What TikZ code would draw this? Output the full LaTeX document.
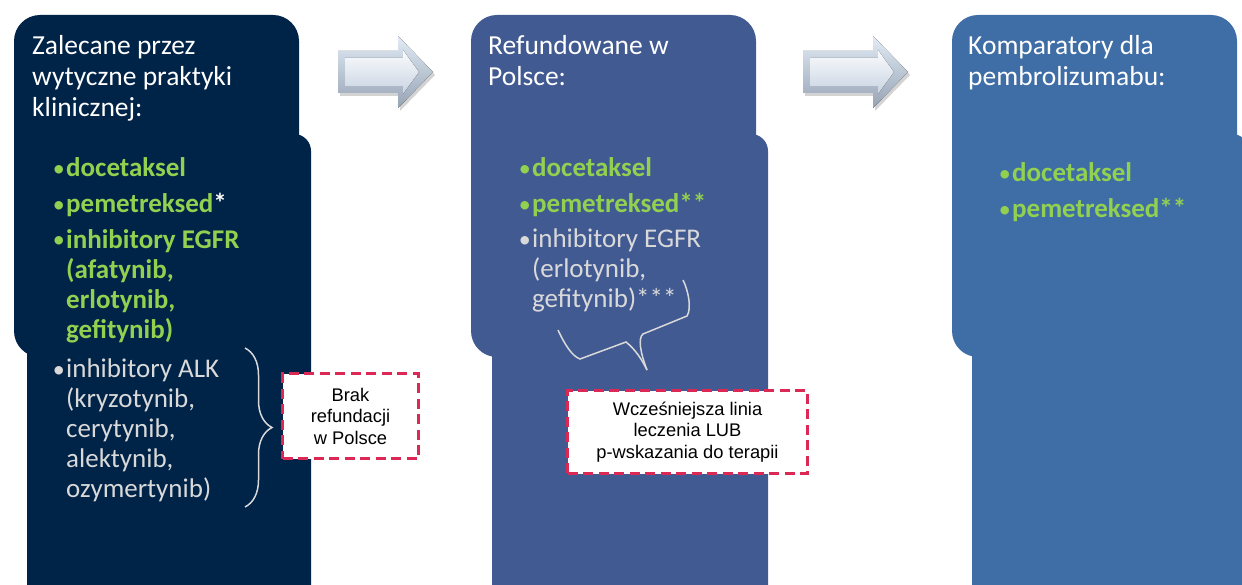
\documentclass[tikz,border=0pt]{standalone}
\usepackage{fontspec}
\setmainfont{Carlito}
\newfontfamily\arialfont{Liberation Sans}
\usetikzlibrary{decorations.pathreplacing,shadows}

\definecolor{navyA}{RGB}{0,35,72}
\definecolor{blueB}{RGB}{66,90,146}
\definecolor{blueC}{RGB}{63,110,166}
\definecolor{lgreen}{RGB}{146,208,80}
\definecolor{lgrey}{RGB}{217,217,217}
\definecolor{noteRed}{RGB}{220,40,84}
\definecolor{arrowTop}{RGB}{226,235,245}
\definecolor{arrowMid}{RGB}{200,212,226}
\definecolor{arrowBot}{RGB}{150,163,180}

% multi-line nodes sit on the baseline of their last line
\tikzset{
  heading/.style={anchor=base west, align=left, inner sep=0pt, text=white,
    font=\fontsize{27.5}{31}\selectfont},
  dot/.style={anchor=base east, inner sep=0pt, font=\fontsize{24}{30}\selectfont},
  drugon/.style={anchor=base west, align=left, inner sep=0pt, text=lgreen,
    font=\fontsize{27}{30}\selectfont\bfseries},
  drugoff/.style={anchor=base west, align=left, inner sep=0pt, text=lgrey,
    font=\fontsize{27}{30}\selectfont},
  note/.style={draw=noteRed, dash pattern=on 10pt off 5.5pt, line width=3.4pt,
    fill=white, align=center, inner sep=0pt,
    font=\arialfont\fontsize{18.3}{21.5}\selectfont},
  remark/.style={lgrey, line width=1.5pt},
  arrowbody/.style={top color=arrowTop, bottom color=arrowBot,
    drop shadow={opacity=0.35, shadow xshift=2pt, shadow yshift=-3pt}},
  arrowface/.style={top color=white!85!arrowTop, bottom color=arrowMid}
}

\begin{document}
\begin{tikzpicture}[x=1pt,y=-1pt]

  \useasboundingbox (0,0) rectangle (1242,585);

  % panels: upper and lower rounded boxes
  \foreach \xa/\xb/\col in {14/27/navyA, 471/492/blueB, 952/972/blueC}
  {
    \fill[\col, rounded corners=26pt] (\xa,15) rectangle (\xa+285,357);
    \fill[\col, rounded corners=17pt] (\xb,134) rectangle (\xa+297,605);
  }

  % arrows
  \foreach \xl/\xh in {338/398, 803/873}
  {
    \pgfmathtruncatemacro\xt{\xh+35}
    \fill[arrowbody] (\xl,51) -- (\xh,51) -- (\xh,36) -- (\xt,72)
      -- (\xh,108) -- (\xh,93) -- (\xl,93) -- cycle;
    \fill[arrowface] (\xl+7,58) -- (\xh+5,58) -- (\xh+5,50) -- (\xt-14,72)
      -- (\xh+5,94) -- (\xh+5,86) -- (\xl+7,86) -- cycle;
  }

  \node[heading] (h1) at (32,117) {Zalecane przez\\wytyczne praktyki\\klinicznej:};
  \node[heading] (h2) at (488,86) {Refundowane w\\Polsce:};
  \node[heading] (h3) at (968,86) {Komparatory dla\\pembrolizumabu:};

  % bullets
  \foreach \x/\y/\c [count=\i] in {65/177/lgreen, 65/213/lgreen, 65/248/lgreen,
      65/377/lgrey, 531/177/lgreen, 531/213/lgreen, 531/248/lgrey,
      1011/182/lgreen, 1011/218/lgreen}
    \node[dot, text=\c] (b\i) at (\x,\y) {•};

  \node[drugon] (d11) at (66,177) {docetaksel};
  \node[drugon] (d12) at (66,213) {pemetreksed\textcolor{white}{*}};
  \node[drugon] (d13) at (66,338) {inhibitory EGFR\\(afatynib,\\erlotynib,\\gefitynib)};
  \node[drugoff] (d14) at (66,497) {inhibitory ALK\\(kryzotynib,\\cerytynib,\\alektynib,\\ozymertynib)};

  \node[drugon] (d21) at (532,177) {docetaksel};
  \node[drugon] (d22) at (532,213) {pemetreksed**};
  \node[drugoff] (d23) at (532,308) {inhibitory EGFR\\(erlotynib,\\gefitynib)***};

  \node[drugon] (d31) at (1012,182) {docetaksel};
  \node[drugon] (d32) at (1012,218) {pemetreksed**};

  % notes
  \node[note, minimum width=136pt, minimum height=85pt] (n1) at (350.5,416)
    {Brak\\refundacji\\w Polsce};
  \node[note, minimum width=240pt, minimum height=83pt] (n2) at (687.5,432)
    {Wcześniejsza linia\\leczenia LUB\\p-wskazania do terapii};

  % brace and callout
  \coordinate (br1) at (245,348);
  \coordinate (br2) at (245,507);
  \draw[remark, decorate, decoration={brace, amplitude=27pt}] (br1) -- (br2);

  \coordinate (c1) at (558,330);
  \coordinate (c2) at (580,359);
  \coordinate (c3) at (626,342);
  \coordinate (tip) at (647,370);
  \coordinate (c4) at (643,334);
  \coordinate (c5) at (687,316);
  \coordinate (c6) at (683,280);
  \draw[remark] (c1) .. controls (565,345) and (572,356) .. (c2) -- (c3)
    .. controls (636,350) and (642,360) .. (tip);
  \draw[remark] (tip) .. controls (640,352) and (638,338) .. (c4) -- (c5)
    .. controls (692,308) and (688,290) .. (c6);

\end{tikzpicture}
\end{document}
